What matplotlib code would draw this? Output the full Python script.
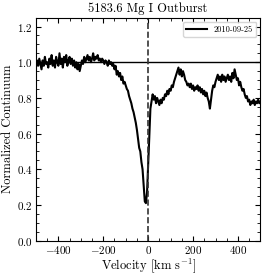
import numpy as np
import matplotlib
matplotlib.use("Agg")
import matplotlib.pyplot as plt
from matplotlib.ticker import AutoMinorLocator

plt.rcParams['font.family'] = 'serif'
plt.rcParams['font.serif'] = ['cmr10']
plt.rcParams['mathtext.fontset'] = 'cm'
plt.rcParams['axes.formatter.use_mathtext'] = True
plt.rcParams['axes.unicode_minus'] = True

# velocity grid (km/s) and normalized flux
velocity = np.arange(-500, 501, 5)
flux = [
    0.97, 1.01, 0.98, 1.02, 0.99, 0.96, 1.01, 0.98, 1.03, 0.99,
    1.00, 0.97, 1.02, 0.99, 1.04, 0.98, 1.01, 0.97, 1.03, 1.00,
    0.98, 1.05, 0.99, 1.02, 0.97, 1.03, 1.00, 1.04, 0.98, 1.01,
    1.03, 0.99, 1.02, 0.98, 1.01, 0.97, 1.00, 0.96, 0.99, 0.95,
    0.98, 1.01, 0.99, 1.03, 1.00, 1.02, 1.04, 1.01, 1.03, 1.00,
    1.02, 1.05, 1.01, 1.03, 1.02, 1.04, 1.01, 1.02, 1.00, 1.02,
    1.01, 0.99, 1.01, 1.00, 0.98, 1.01, 0.99, 1.00, 0.98, 0.99,
    0.96, 0.98, 0.93, 0.95, 0.92, 0.94, 0.90, 0.92, 0.88, 0.89,
    0.87, 0.85, 0.84, 0.81, 0.79, 0.77, 0.74, 0.72, 0.69, 0.66,
    0.62, 0.57, 0.52, 0.50, 0.44, 0.40, 0.31, 0.22, 0.21, 0.27,
    0.42, 0.58, 0.74, 0.78, 0.82, 0.79, 0.81, 0.77, 0.80, 0.78,
    0.76, 0.79, 0.77, 0.80, 0.79, 0.82, 0.81, 0.84, 0.82, 0.85,
    0.84, 0.87, 0.86, 0.89, 0.91, 0.93, 0.95, 0.97, 0.93, 0.96,
    0.92, 0.95, 0.93, 0.90, 0.89, 0.87, 0.88, 0.86, 0.88, 0.85,
    0.87, 0.84, 0.86, 0.85, 0.87, 0.84, 0.86, 0.83, 0.85, 0.82,
    0.84, 0.81, 0.83, 0.80, 0.78, 0.74, 0.79, 0.84, 0.87, 0.86,
    0.89, 0.91, 0.93, 0.90, 0.92, 0.89, 0.93, 0.90, 0.92, 0.89,
    0.91, 0.93, 0.90, 0.92, 0.89, 0.94, 0.91, 0.96, 0.93, 0.90,
    0.91, 0.87, 0.89, 0.86, 0.84, 0.85, 0.82, 0.80, 0.81, 0.78,
    0.79, 0.76, 0.78, 0.77, 0.79, 0.76, 0.78, 0.77, 0.79, 0.77,
    0.78,
]
date_label = '2010-09-25'

fig = plt.figure(figsize=(2.66, 2.75), dpi=100)
ax = fig.add_axes([0.135, 0.125, 0.844, 0.811])

ax.plot(velocity, flux, color='black', lw=1.5, label=date_label)
ax.axhline(1.0, color='black', lw=1.0)
ax.axvline(0, color='#333333', lw=1.2, ls='--')

ax.set_xlim(-500, 500)
ax.set_ylim(0, 1.25)
ax.set_xticks([-400, -200, 0, 200, 400])
ax.set_yticks([0.0, 0.2, 0.4, 0.6, 0.8, 1.0, 1.2])
ax.xaxis.set_minor_locator(AutoMinorLocator(4))
ax.yaxis.set_minor_locator(AutoMinorLocator(4))
ax.tick_params(which='both', direction='in', top=True, right=True, labelsize=8, pad=2.5)
ax.tick_params(which='major', length=3.5)
ax.tick_params(which='minor', length=2)

ax.set_title('5183.6 Mg I Outburst', fontsize=9, pad=4)
ax.set_xlabel(r'Velocity [km s$^{-1}$]', fontsize=9, labelpad=0)
ax.set_ylabel('Normalized Continuum', fontsize=9, labelpad=2)
ax.legend(loc='upper right', fontsize=6, handlelength=2.5)

fig.savefig('out.png', dpi=100)
